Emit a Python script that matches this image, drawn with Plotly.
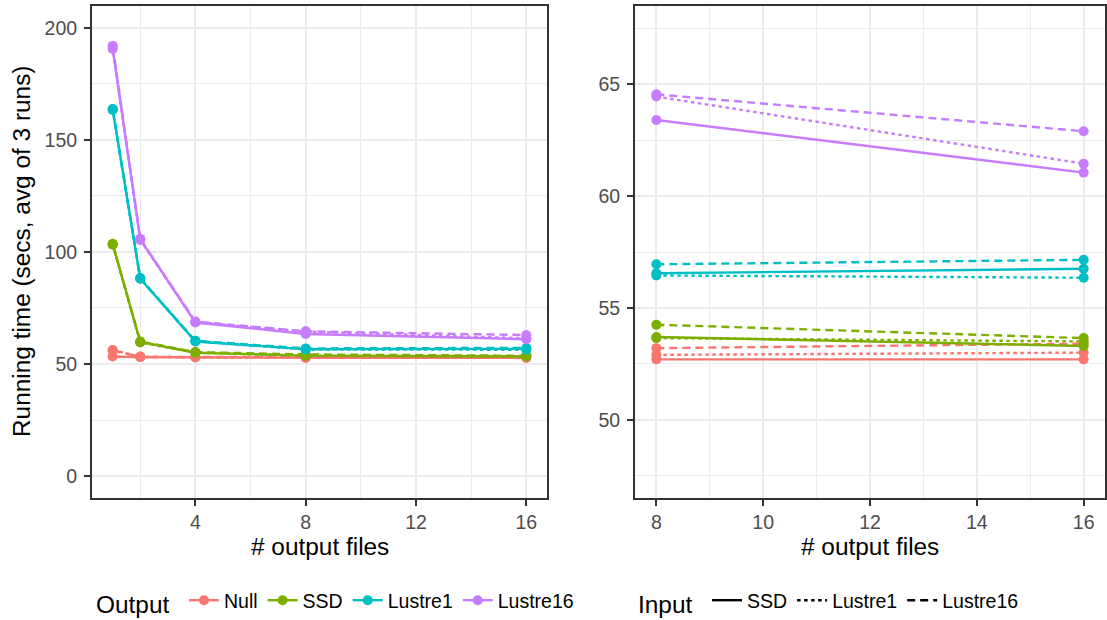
import plotly.graph_objects as go

# ---------------- data ----------------
x_files = [1, 2, 4, 8, 16]
outputs = ["Null", "SSD", "Lustre1", "Lustre16"]
inputs = ["SSD", "Lustre1", "Lustre16"]

null_ssd = [53.3, 53.0, 53.0, 52.7, 52.7]
null_lustre1 = [56.2, 53.3, 52.9, 52.9, 53.0]
null_lustre16 = [56.0, 53.2, 53.1, 53.2, 53.4]

ssd_ssd = [103.6, 59.8, 55.0, 53.7, 53.3]
ssd_lustre1 = [103.2, 59.6, 55.1, 53.65, 53.5]
ssd_lustre16 = [103.4, 60.0, 55.3, 54.25, 53.65]

lustre1_ssd = [163.7, 88.0, 60.0, 56.55, 56.75]
lustre1_lustre1 = [163.3, 88.3, 60.2, 56.45, 56.35]
lustre1_lustre16 = [163.5, 88.1, 60.3, 56.95, 57.15]

lustre16_ssd = [190.5, 105.6, 68.5, 63.4, 61.05]
lustre16_lustre1 = [191.9, 105.3, 68.7, 64.45, 61.45]
lustre16_lustre16 = [191.5, 105.8, 68.9, 64.55, 62.9]

series = {
    ("Null", "SSD"): null_ssd, ("Null", "Lustre1"): null_lustre1, ("Null", "Lustre16"): null_lustre16,
    ("SSD", "SSD"): ssd_ssd, ("SSD", "Lustre1"): ssd_lustre1, ("SSD", "Lustre16"): ssd_lustre16,
    ("Lustre1", "SSD"): lustre1_ssd, ("Lustre1", "Lustre1"): lustre1_lustre1, ("Lustre1", "Lustre16"): lustre1_lustre16,
    ("Lustre16", "SSD"): lustre16_ssd, ("Lustre16", "Lustre1"): lustre16_lustre1, ("Lustre16", "Lustre16"): lustre16_lustre16,
}

left_yticks = [0, 50, 100, 150, 200]
left_xticks = [4, 8, 12, 16]
right_yticks = [50, 55, 60, 65]
right_xticks = [8, 10, 12, 14, 16]

# ---------------- style ----------------
colors = {"Null": "#F8766D", "SSD": "#7CAE00", "Lustre1": "#00BFC4", "Lustre16": "#C77CFF"}
dashes = {"SSD": "solid", "Lustre1": "3.5px,3.5px", "Lustre16": "8px,5px"}
LW = 2.4
MS = 10
FONT = "Liberation Sans, Arial, Helvetica, sans-serif"
TICKF = 19.5
TITLEF = 24.4
W, H = 1107, 620

fig = go.Figure()

for o in outputs:
    for i in inputs:
        ys = series[(o, i)]
        # left panel: all file counts
        fig.add_trace(go.Scatter(x=x_files, y=ys, mode="lines+markers",
                                 line=dict(color=colors[o], width=LW, dash=dashes[i]),
                                 marker=dict(color=colors[o], size=MS),
                                 showlegend=False, xaxis="x", yaxis="y", hoverinfo="skip"))
        # right panel: zoom on 8 and 16 files
        xr = [x for x in x_files if x >= 8]
        yr = [y for x, y in zip(x_files, ys) if x >= 8]
        fig.add_trace(go.Scatter(x=xr, y=yr, mode="lines+markers",
                                 line=dict(color=colors[o], width=LW, dash=dashes[i]),
                                 marker=dict(color=colors[o], size=MS),
                                 showlegend=False, xaxis="x2", yaxis="y2", hoverinfo="skip"))

# legend entries
for o in outputs:
    fig.add_trace(go.Scatter(x=[None], y=[None], mode="lines+markers", name=o,
                             line=dict(color=colors[o], width=LW),
                             marker=dict(color=colors[o], size=MS),
                             legend="legend", xaxis="x", yaxis="y"))
for i in inputs:
    fig.add_trace(go.Scatter(x=[None], y=[None], mode="lines", name=i,
                             line=dict(color="black", width=LW, dash=dashes[i]),
                             legend="legend2", xaxis="x", yaxis="y"))

def px_x(p):
    return p / W

def px_y(p):
    return 1 - p / H

grid_major = "#EBEBEB"
border = "#333333"

def axis(domain, rng, ticks, minor_dtick, minor_tick0, anchor, standoff):
    return dict(domain=domain, range=rng, tickvals=ticks, ticktext=[str(t) for t in ticks],
                showgrid=True, gridcolor=grid_major, gridwidth=2.2,
                minor=dict(dtick=minor_dtick, tick0=minor_tick0, showgrid=True,
                           gridcolor=grid_major, gridwidth=1.1, ticks=""),
                zeroline=False, showline=True, mirror=True, linecolor=border, linewidth=2,
                ticks="outside", ticklen=6, tickwidth=2, tickcolor=border,
                ticklabelstandoff=standoff,
                tickfont=dict(family=FONT, size=TICKF, color="#4D4D4D"),
                anchor=anchor, fixedrange=True, automargin=False)

ydom = [px_y(498), px_y(6)]
fig.update_layout(
    width=W, height=H,
    margin=dict(l=0, r=0, t=0, b=0, autoexpand=False),
    paper_bgcolor="white", plot_bgcolor="white",
    font=dict(family=FONT, size=TICKF, color="black"),
    xaxis=axis([px_x(92), px_x(547)], [0.25, 16.75], left_xticks, 2, 0, "y", 0),
    yaxis=axis(ydom, [-9.8, 209.7], left_yticks, 25, 0, "x", 3),
    xaxis2=axis([px_x(635), px_x(1105)], [7.6, 16.4], right_xticks, 1, 0, "y2", 0),
    yaxis2=axis(ydom, [46.5, 68.5], right_yticks, 2.5, 0, "x2", 3),
    legend=dict(orientation="h", x=px_x(94), y=px_y(602), xanchor="left", yanchor="middle",
                title=dict(text="Output ", side="left", font=dict(family=FONT, size=TITLEF, color="black")),
                font=dict(family=FONT, size=TICKF, color="black"),
                bgcolor="rgba(0,0,0,0)", itemwidth=30, tracegroupgap=0),
    legend2=dict(orientation="h", x=px_x(636), y=px_y(602), xanchor="left", yanchor="middle",
                 title=dict(text="Input ", side="left", font=dict(family=FONT, size=TITLEF, color="black")),
                 font=dict(family=FONT, size=TICKF, color="black"),
                 bgcolor="rgba(0,0,0,0)", itemwidth=30, tracegroupgap=0),
    annotations=[
        dict(text="# output files", x=px_x(319.5), y=px_y(546), xref="paper", yref="paper",
             showarrow=False, xanchor="center", yanchor="middle",
             font=dict(family=FONT, size=TITLEF, color="black")),
        dict(text="# output files", x=px_x(870), y=px_y(546), xref="paper", yref="paper",
             showarrow=False, xanchor="center", yanchor="middle",
             font=dict(family=FONT, size=TITLEF, color="black")),
        dict(text="Running time (secs, avg of 3 runs)", x=px_x(21), y=px_y(252), xref="paper", yref="paper",
             showarrow=False, xanchor="center", yanchor="middle", textangle=-90,
             font=dict(family=FONT, size=TITLEF, color="black")),
    ],
)

fig.write_html("out.html")
